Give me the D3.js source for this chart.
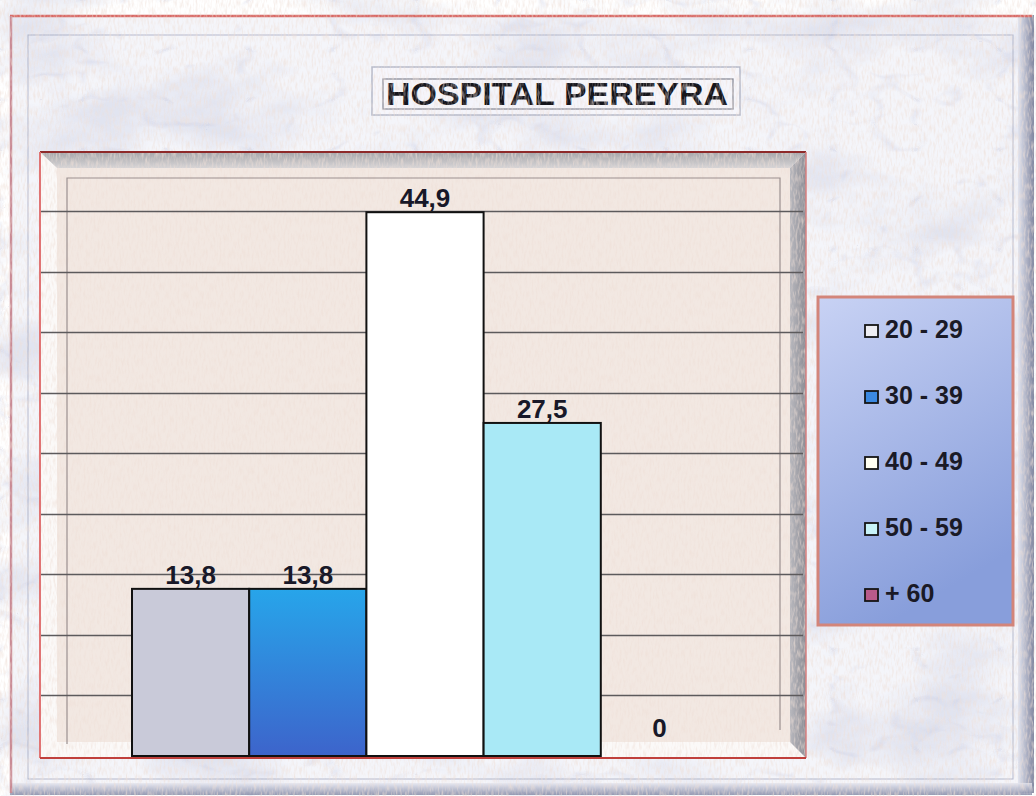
<!DOCTYPE html>
<html>
<head>
<meta charset="utf-8">
<script src="https://cdn.jsdelivr.net/npm/d3@7/dist/d3.min.js"></script>
<style>
  html, body { margin: 0; padding: 0; background: #ffffff; }
  svg { display: block; font-family: Arial, "Liberation Sans", sans-serif; }
</style>
</head>
<body>
<div id="grafiek"></div>
<script>
// datos del grafico
var categories = ["20 - 29", "30 - 39", "40 - 49", "50 - 59", "+ 60"];
var values = [13.8, 13.8, 44.9, 27.5, 0];
var valueLabels = ["13,8", "13,8", "44,9", "27,5", "0"];
var titulo = "HOSPITAL PEREYRA";

// colores de las barras y de la leyenda
var barColors = ["#c9cad9", "url(#gradAzul)", "#ffffff", "#a9e9f6", "#b85a8a"];
var swatchColors = ["#eeeef3", "#3a88e0", "#fffff2", "#c8f3f8", "#b85a8a"];

var width = 1036, height = 796;

var svg = d3.select("#grafiek")
    .append("svg")
    .attr("width", width)
    .attr("height", height);

var defs = svg.append("defs");

// textura de marmol
var fm = defs.append("filter").attr("id", "marble")
    .attr("filterUnits", "userSpaceOnUse")
    .attr("x", 0).attr("y", 0).attr("width", width).attr("height", height);
fm.append("feTurbulence").attr("type", "fractalNoise")
    .attr("baseFrequency", "0.007 0.013").attr("numOctaves", 5).attr("seed", 11);
fm.append("feColorMatrix").attr("type", "matrix")
    .attr("values", "0 0 0 0 0.6  0 0 0 0 0.63  0 0 0 0 0.78  3.2 0 0 0 -1.5");

var fv = defs.append("filter").attr("id", "veins")
    .attr("filterUnits", "userSpaceOnUse")
    .attr("x", 0).attr("y", 0).attr("width", width).attr("height", height);
fv.append("feTurbulence").attr("type", "turbulence")
    .attr("baseFrequency", "0.012 0.02").attr("numOctaves", 3).attr("seed", 4);
fv.append("feColorMatrix").attr("type", "matrix")
    .attr("values", "0 0 0 0 0.5  0 0 0 0 0.53  0 0 0 0 0.72  -4 0 0 0 0.55");

// textura fina del fondo beige
var fb = defs.append("filter").attr("id", "grain")
    .attr("filterUnits", "userSpaceOnUse")
    .attr("x", 0).attr("y", 0).attr("width", width).attr("height", height);
fb.append("feTurbulence").attr("type", "fractalNoise")
    .attr("baseFrequency", "0.5 0.12").attr("numOctaves", 2).attr("seed", 2);
fb.append("feColorMatrix").attr("type", "matrix")
    .attr("values", "0 0 0 0 0.86  0 0 0 0 0.74  0 0 0 0 0.68  2.4 0 0 0 -1.0");

function linGrad(id, x2, y2, stops) {
    var g = defs.append("linearGradient").attr("id", id)
        .attr("x1", 0).attr("y1", 0).attr("x2", x2).attr("y2", y2);
    stops.forEach(function(s) {
        g.append("stop").attr("offset", s[0]).attr("stop-color", s[1]);
    });
}
linGrad("gradAzul", 0, 1, [[0, "#27a5ea"], [1, "#3d64cb"]]);
linGrad("gradLeyenda", 0.35, 1, [[0, "#c8d2f4"], [1, "#889edb"]]);
linGrad("gradTop", 0, 1, [[0, "#a6a6aa"], [1, "#d6d4d6"]]);
linGrad("gradRight", 1, 0, [[0, "#b8b8be"], [1, "#8c8c94"]]);
linGrad("gradBordeDer", 1, 0, [[0, "#dfe2ee"], [1, "#6d7390"]]);
linGrad("gradBordeInf", 0, 1, [[0, "#e4e6f0"], [1, "#7c82a0"]]);

// tarjeta de marmol
svg.append("rect").attr("x", 10).attr("y", 15).attr("width", 1022).attr("height", 778)
    .attr("fill", "#f4f5fa");
svg.append("rect").attr("x", 10).attr("y", 15).attr("width", 1022).attr("height", 778)
    .attr("filter", "url(#marble)").attr("opacity", 0.45);
svg.append("rect").attr("x", 10).attr("y", 15).attr("width", 1022).attr("height", 778)
    .attr("filter", "url(#veins)").attr("opacity", 0.5);
svg.append("rect").attr("x", 1018).attr("y", 15).attr("width", 16).attr("height", 778)
    .attr("fill", "url(#gradBordeDer)").attr("opacity", 0.85);
svg.append("rect").attr("x", 10).attr("y", 783).attr("width", 1022).attr("height", 12)
    .attr("fill", "url(#gradBordeInf)").attr("opacity", 0.8);
svg.append("rect").attr("x", 28).attr("y", 35).attr("width", 985).attr("height", 744)
    .attr("fill", "none").attr("stroke", "#9aa0b8").attr("stroke-width", 1).attr("opacity", 0.7);
svg.append("line").attr("x1", 10).attr("x2", 1032).attr("y1", 16).attr("y2", 16)
    .attr("stroke", "#d86a66").attr("stroke-width", 2.5);
svg.append("line").attr("x1", 11).attr("x2", 11).attr("y1", 16).attr("y2", 793)
    .attr("stroke", "#c98b95").attr("stroke-width", 2.5);

// titulo
var tg = svg.append("g");
tg.append("rect").attr("x", 372).attr("y", 67).attr("width", 368).attr("height", 48)
    .attr("fill", "#f6f6fb").attr("fill-opacity", 0.85)
    .attr("stroke", "#b4b8c8").attr("stroke-width", 1.5);
tg.append("rect").attr("x", 383).attr("y", 79).attr("width", 350).attr("height", 30)
    .attr("fill", "none").attr("stroke", "#8a8c98").attr("stroke-width", 1.3);
tg.append("text").attr("x", 386).attr("y", 105)
    .attr("textLength", 342).attr("lengthAdjust", "spacingAndGlyphs")
    .attr("font-size", 31).attr("font-weight", "bold").attr("fill", "#15151c")
    .text(titulo);

// marco del grafico
var L = 40, T = 152, R = 806, B = 758, bev = 16;
svg.append("rect").attr("x", L).attr("y", T).attr("width", R - L).attr("height", B - T)
    .attr("fill", "#fbf9f8");
svg.append("polygon")
    .attr("points", [[L, T], [R, T], [R - bev, T + bev], [L + 17, T + bev]].join(" "))
    .attr("fill", "url(#gradTop)");
svg.append("polygon")
    .attr("points", [[R, T], [R, B], [R - bev, B - bev], [R - bev, T + bev]].join(" "))
    .attr("fill", "url(#gradRight)");
svg.append("rect").attr("x", L + 17).attr("y", T + bev)
    .attr("width", R - bev - L - 17).attr("height", B - bev - T - bev)
    .attr("fill", "#f2e8e2");
svg.append("rect").attr("x", L + 17).attr("y", T + bev)
    .attr("width", R - bev - L - 17).attr("height", B - bev - T - bev)
    .attr("filter", "url(#grain)").attr("opacity", 0.6);
svg.append("path")
    .attr("d", "M" + (L + 27) + "," + (B - 14) + "V178H780V" + (B - 28))
    .attr("fill", "none").attr("stroke", "#9b9090").attr("stroke-width", 1.2);

// escalas
var x = d3.scaleBand()
    .domain(categories)
    .range([132, 718])
    .padding(0);

var y = d3.scaleLinear()
    .domain([0, 45])
    .range([756, 211]);

// lineas de division
var ticks = y.ticks(9).filter(function(t) { return t > 0; });
svg.append("g").selectAll("line")
    .data(ticks)
    .enter()
    .append("line")
    .attr("x1", L).attr("x2", R - 3)
    .attr("y1", function(d) { return Math.round(y(d)) + 0.5; })
    .attr("y2", function(d) { return Math.round(y(d)) + 0.5; })
    .attr("stroke", "#5c5a5c")
    .attr("stroke-width", 1.6);

// bordes rojos del marco
svg.append("line").attr("x1", L).attr("x2", R).attr("y1", T).attr("y2", T)
    .attr("stroke", "#8e2a2a").attr("stroke-width", 2);
svg.append("line").attr("x1", L).attr("x2", L).attr("y1", T).attr("y2", B)
    .attr("stroke", "#e07474").attr("stroke-width", 2);
svg.append("line").attr("x1", R).attr("x2", R).attr("y1", T).attr("y2", B)
    .attr("stroke", "#d88080").attr("stroke-width", 1.5);
svg.append("line").attr("x1", L).attr("x2", R).attr("y1", B).attr("y2", B)
    .attr("stroke", "#c0403c").attr("stroke-width", 2);

// barras
var data = categories.map(function(c, i) {
    return { cat: c, value: values[i], label: valueLabels[i], color: barColors[i] };
});

svg.append("g").selectAll("rect")
    .data(data.filter(function(d) { return d.value > 0; }))
    .enter()
    .append("rect")
    .attr("x", function(d) { return x(d.cat); })
    .attr("y", function(d) { return y(d.value); })
    .attr("width", x.bandwidth())
    .attr("height", function(d) { return y(0) - y(d.value); })
    .attr("fill", function(d) { return d.color; })
    .attr("stroke", "#111")
    .attr("stroke-width", 2);

// etiquetas de valores
svg.append("g").selectAll("text")
    .data(data)
    .enter()
    .append("text")
    .attr("x", function(d) { return x(d.cat) + x.bandwidth() / 2; })
    .attr("y", function(d) { return Math.min(y(d.value) - 5, y(0) - 19); })
    .attr("text-anchor", "middle")
    .attr("font-size", 26)
    .attr("font-weight", "bold")
    .attr("fill", "#181828")
    .text(function(d) { return d.label; });

// leyenda
var lg = svg.append("g");
lg.append("rect").attr("x", 818).attr("y", 297).attr("width", 195).attr("height", 328)
    .attr("fill", "url(#gradLeyenda)")
    .attr("stroke", "#d3857a").attr("stroke-width", 3);

var item = lg.selectAll("g.item")
    .data(categories)
    .enter()
    .append("g")
    .attr("class", "item")
    .attr("transform", function(d, i) { return "translate(865," + (338 + i * 66) + ")"; });

item.append("rect")
    .attr("x", 0).attr("y", -13).attr("width", 13).attr("height", 12)
    .attr("fill", function(d, i) { return swatchColors[i]; })
    .attr("stroke", "#151515").attr("stroke-width", 1.8);

item.append("text")
    .attr("x", 20).attr("y", 0)
    .attr("font-size", 25).attr("font-weight", "bold").attr("fill", "#1a1a26")
    .text(function(d) { return d; });
</script>
</body>
</html>
